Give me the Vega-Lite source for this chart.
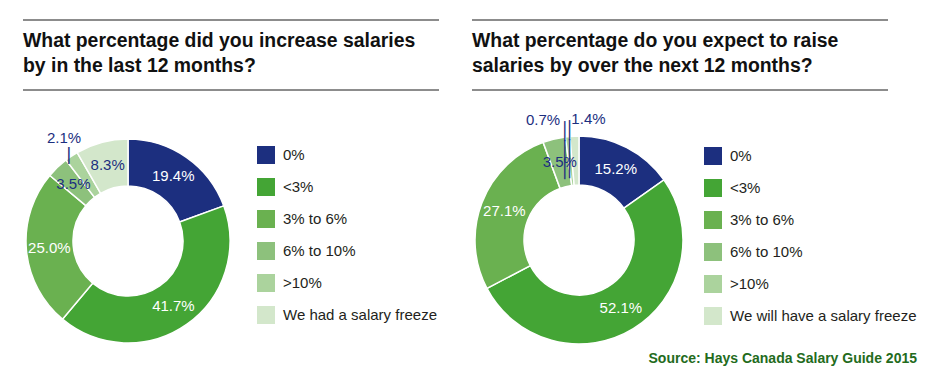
{
  "$schema": "https://vega.github.io/schema/vega-lite/v6.json",
  "padding": {"left": 22, "top": 19, "right": 5, "bottom": 5},
  "config": {"view": {"stroke": null}, "font": "Liberation Sans"},
  "title": {"text": "Source: Hays Canada Salary Guide 2015", "orient": "bottom", "anchor": "end", "frame": "bounds", "font": "Liberation Sans", "fontSize": 14, "fontWeight": "bold", "color": "#236b1c", "offset": 5},
  "spacing": 31,
  "resolve": {"scale": {"color": "independent", "theta": "independent"}, "legend": {"color": "independent"}},
  "hconcat": [
    {
      "bounds": "flush",
      "spacing": 46,
      "resolve": {"scale": {"color": "independent", "theta": "independent"}, "legend": {"color": "independent"}},
      "vconcat": [
        {
          "width": 416, "height": 70,
          "data": {"values": [{"edge": "top"}, {"edge": "bottom"}]},
          "mark": {"type": "rule"},
          "encoding": {
            "y": {"field": "edge", "type": "nominal", "scale": {"type": "point", "domain": ["top", "bottom"], "padding": 0}, "axis": null},
            "stroke": {"condition": {"test": "datum.edge === 'top'", "value": "#8c8c8c"}, "value": "#1a1a1a"},
            "strokeWidth": {"condition": {"test": "datum.edge === 'top'", "value": 2}, "value": 1}
          },
          "title": {"text": ["What percentage did you increase salaries", "by in the last 12 months?"], "anchor": "start", "frame": "group", "orient": "top", "baseline": "top", "offset": -57, "font": "Liberation Sans", "fontSize": 19.4, "fontWeight": "bold", "color": "#111111", "lineHeight": 25}
        },
        {
          "width": 210, "height": 210,
          "data": {"values": [
            {"cat": "0%", "value": 19.4, "rank": 1, "label": "19.4%"},
            {"cat": "<3%", "value": 41.7, "rank": 2, "label": "41.7%"},
            {"cat": "3% to 6%", "value": 25.0, "rank": 3, "label": "25.0%"},
            {"cat": "6% to 10%", "value": 3.5, "rank": 4, "label": "3.5%"},
            {"cat": ">10%", "value": 2.1, "rank": 5, "label": "2.1%"},
            {"cat": "We had a salary freeze", "value": 8.3, "rank": 6, "label": "8.3%"}
          ]},
          "layer": [
            {
              "mark": {"type": "arc", "innerRadius": 55, "outerRadius": 102, "stroke": "white", "strokeWidth": 1.5},
              "encoding": {
                "theta": {"field": "value", "type": "quantitative", "stack": true},
                "order": {"field": "rank", "type": "quantitative"},
                "color": {"field": "cat", "type": "nominal",
                  "scale": {"domain": ["0%", "<3%", "3% to 6%", "6% to 10%", ">10%", "We had a salary freeze"], "range": ["#1c2f7f", "#44a535", "#6ab150", "#8dc17c", "#abd39d", "#d3e7cb"]},
                  "legend": {"orient": "none", "legendX": 234, "legendY": 10, "title": null, "symbolType": "square", "symbolSize": 324, "symbolStrokeWidth": 0, "symbolOpacity": 1, "labelFont": "Liberation Sans", "labelFontSize": 15, "labelColor": "#231f20", "labelOffset": 8, "rowPadding": 14, "padding": 0, "labelLimit": 300}
                }
              }
            },
            {
              "mark": {"type": "text", "radius": 79, "font": "Liberation Sans", "fontSize": 15},
              "encoding": {
                "theta": {"field": "value", "type": "quantitative", "stack": true},
                "order": {"field": "rank", "type": "quantitative"},
                "text": {"condition": {"test": "datum.cat !== '>10%'", "field": "label", "type": "nominal"}, "value": ""},
                "fill": {"condition": {"test": "indexof(['0%', '<3%', '3% to 6%'], datum.cat) >= 0", "value": "white"}, "value": "#1c2f7f"}
              }
            },
            {
              "transform": [
                {"stack": "value", "groupby": [], "sort": [{"field": "rank"}], "as": ["v0", "v1"]},
                {"filter": "datum.cat === '>10%'"}
              ],
              "layer": [
                {
                  "mark": {"type": "text", "radius": 120, "dx": 9, "dy": -8, "font": "Liberation Sans", "fontSize": 15, "fill": "#1c2f7f"},
                  "encoding": {
                    "theta": {"field": "v0", "type": "quantitative"},
                    "theta2": {"field": "v1"},
                    "text": {"field": "label", "type": "nominal"}
                  }
                },
                {
                  "mark": {"type": "text", "radius": 104, "dx": 4, "dy": -3, "font": "Liberation Sans", "fontSize": 18, "fill": "#1c2f7f"},
                  "encoding": {
                    "theta": {"field": "v0", "type": "quantitative"},
                    "theta2": {"field": "v1"},
                    "text": {"value": "|"}
                  }
                }
              ]
            }
          ]
        }
      ]
    },
    {
      "bounds": "flush",
      "spacing": 43,
      "resolve": {"scale": {"color": "independent", "theta": "independent"}, "legend": {"color": "independent"}},
      "vconcat": [
        {
          "width": 416, "height": 70,
          "data": {"values": [{"edge": "top"}, {"edge": "bottom"}]},
          "mark": {"type": "rule"},
          "encoding": {
            "y": {"field": "edge", "type": "nominal", "scale": {"type": "point", "domain": ["top", "bottom"], "padding": 0}, "axis": null},
            "stroke": {"condition": {"test": "datum.edge === 'top'", "value": "#8c8c8c"}, "value": "#1a1a1a"},
            "strokeWidth": {"condition": {"test": "datum.edge === 'top'", "value": 2}, "value": 1}
          },
          "title": {"text": ["What percentage do you expect to raise", "salaries by over the next 12 months?"], "anchor": "start", "frame": "group", "orient": "top", "baseline": "top", "offset": -57, "font": "Liberation Sans", "fontSize": 19.4, "fontWeight": "bold", "color": "#111111", "lineHeight": 25}
        },
        {
          "width": 214, "height": 214,
          "data": {"values": [
            {"cat": "0%", "value": 15.2, "rank": 1, "label": "15.2%"},
            {"cat": "<3%", "value": 52.1, "rank": 2, "label": "52.1%"},
            {"cat": "3% to 6%", "value": 27.1, "rank": 3, "label": "27.1%"},
            {"cat": "6% to 10%", "value": 3.5, "rank": 4, "label": "3.5%"},
            {"cat": ">10%", "value": 0.7, "rank": 5, "label": "0.7%"},
            {"cat": "We will have a salary freeze", "value": 1.4, "rank": 6, "label": "1.4%"}
          ]},
          "layer": [
            {
              "mark": {"type": "arc", "innerRadius": 55, "outerRadius": 104, "stroke": "white", "strokeWidth": 1.5},
              "encoding": {
                "theta": {"field": "value", "type": "quantitative", "stack": true},
                "order": {"field": "rank", "type": "quantitative"},
                "color": {"field": "cat", "type": "nominal",
                  "scale": {"domain": ["0%", "<3%", "3% to 6%", "6% to 10%", ">10%", "We will have a salary freeze"], "range": ["#1c2f7f", "#44a535", "#6ab150", "#8dc17c", "#abd39d", "#d3e7cb"]},
                  "legend": {"orient": "none", "legendX": 232, "legendY": 14, "title": null, "symbolType": "square", "symbolSize": 324, "symbolStrokeWidth": 0, "symbolOpacity": 1, "labelFont": "Liberation Sans", "labelFontSize": 15, "labelColor": "#231f20", "labelOffset": 8, "rowPadding": 14, "padding": 0, "labelLimit": 300}
                }
              }
            },
            {
              "mark": {"type": "text", "radius": 80, "font": "Liberation Sans", "fontSize": 15},
              "encoding": {
                "theta": {"field": "value", "type": "quantitative", "stack": true},
                "order": {"field": "rank", "type": "quantitative"},
                "text": {"condition": {"test": "indexof(['0%', '<3%', '3% to 6%', '6% to 10%'], datum.cat) >= 0", "field": "label", "type": "nominal"}, "value": ""},
                "fill": {"condition": {"test": "indexof(['0%', '<3%', '3% to 6%'], datum.cat) >= 0", "value": "white"}, "value": "#1c2f7f"}
              }
            },
            {
              "transform": [
                {"stack": "value", "groupby": [], "sort": [{"field": "rank"}], "as": ["v0", "v1"]},
                {"filter": "datum.rank >= 5"}
              ],
              "layer": [
                {
                  "transform": [{"filter": "datum.cat === '>10%'"}],
                  "mark": {"type": "text", "radius": 121, "align": "right", "dx": -3, "font": "Liberation Sans", "fontSize": 15, "fill": "#1c2f7f"},
                  "encoding": {
                    "theta": {"field": "v0", "type": "quantitative"},
                    "theta2": {"field": "v1"},
                    "text": {"field": "label", "type": "nominal"}
                  }
                },
                {
                  "transform": [{"filter": "datum.cat !== '>10%'"}],
                  "mark": {"type": "text", "radius": 121, "align": "left", "dx": 3, "font": "Liberation Sans", "fontSize": 15, "fill": "#1c2f7f"},
                  "encoding": {
                    "theta": {"field": "v0", "type": "quantitative"},
                    "theta2": {"field": "v1"},
                    "text": {"field": "label", "type": "nominal"}
                  }
                },
                {
                  "mark": {"type": "text", "radius": 109, "font": "DejaVu Sans", "fontSize": 17, "lineHeight": 19, "lineBreak": "\n", "fill": "#1c2f7f"},
                  "encoding": {
                    "theta": {"field": "v0", "type": "quantitative"},
                    "theta2": {"field": "v1"},
                    "text": {"value": "│\n│\n│"}
                  }
                }
              ]
            }
          ]
        }
      ]
    }
  ]
}
